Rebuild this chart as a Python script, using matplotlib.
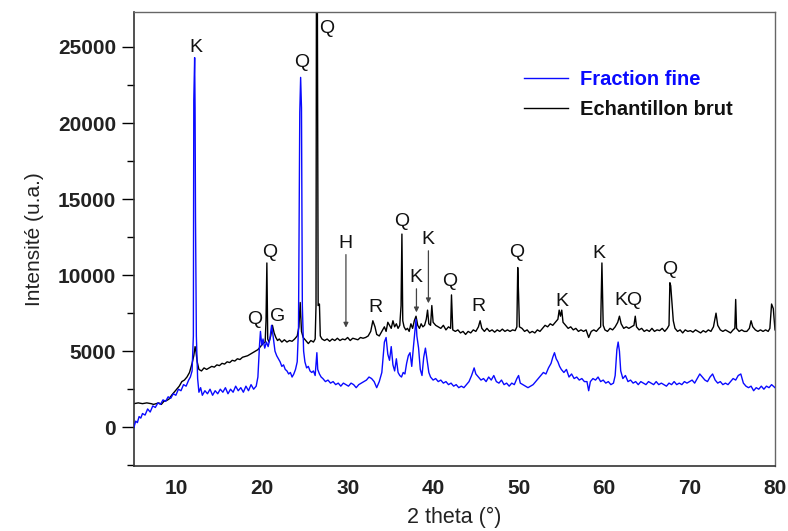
import matplotlib.pyplot as plt
from matplotlib.ticker import MultipleLocator

plt.rcParams['font.family'] = ['Liberation Sans', 'DejaVu Sans']

# Fraction fine (blue) : 2 theta / intensity
fine_2theta = [
    5.0, 5.2, 5.4, 5.6, 5.8, 6.0, 6.3, 6.6, 6.9, 7.2, 7.5, 7.8, 8.1, 8.4, 8.7, 9.0, 9.3, 9.6, 9.9,
    10.2, 10.5, 10.8, 11.1, 11.4, 11.6, 11.8, 11.95, 12.0, 12.1, 12.15, 12.2, 12.3, 12.45, 12.6, 12.8,
    13.0, 13.3, 13.6, 13.9, 14.2, 14.5, 14.8, 15.1, 15.4, 15.7, 16.0, 16.3, 16.6, 16.9, 17.2, 17.5,
    17.8, 18.1, 18.4, 18.7, 19.0, 19.3, 19.5, 19.7, 19.8, 19.95, 20.1, 20.3, 20.5, 20.7, 20.9, 21.1,
    21.3, 21.5, 21.7, 21.9, 22.1, 22.3, 22.5, 22.7, 22.9, 23.1, 23.3, 23.5, 23.7, 23.9, 24.1, 24.25,
    24.4, 24.5, 24.6, 24.7, 24.85, 25.0, 25.2, 25.4, 25.6, 25.8, 26.0, 26.2, 26.4, 26.5, 26.7, 26.9,
    27.1, 27.4, 27.7, 28.0, 28.3, 28.6, 28.9, 29.2, 29.5, 29.8, 30.1, 30.4, 30.7, 31.0, 31.3, 31.6,
    31.9, 32.2, 32.5, 32.8, 33.1, 33.4, 33.7, 34.0, 34.3, 34.5, 34.7, 34.9, 35.1, 35.3, 35.5, 35.7,
    35.9, 36.1, 36.3, 36.5, 36.7, 36.9, 37.1, 37.3, 37.5, 37.7, 37.9, 38.0, 38.1, 38.3, 38.5, 38.7,
    38.9, 39.1, 39.3, 39.5, 39.7, 40.0, 40.3, 40.6, 40.9, 41.2, 41.5, 41.8, 42.1, 42.4, 42.7, 43.0,
    43.3, 43.6, 43.9, 44.2, 44.5, 44.8, 45.0, 45.3, 45.6, 45.9, 46.2, 46.5, 46.8, 47.1, 47.4, 47.7,
    48.0, 48.3, 48.6, 48.9, 49.2, 49.5, 49.8, 50.0, 50.2, 50.5, 50.8, 51.1, 51.4, 51.7, 52.0, 52.3,
    52.6, 52.9, 53.2, 53.5, 53.8, 54.0, 54.2, 54.4, 54.6, 54.8, 55.0, 55.3, 55.6, 55.9, 56.2, 56.5,
    56.8, 57.1, 57.4, 57.7, 58.0, 58.2, 58.4, 58.7, 59.0, 59.3, 59.6, 59.9, 60.2, 60.5, 60.8, 61.1,
    61.3, 61.5, 61.65, 61.8, 61.95, 62.2, 62.5, 62.8, 63.1, 63.4, 63.7, 64.0, 64.3, 64.6, 64.9, 65.2,
    65.5, 65.8, 66.1, 66.4, 66.7, 67.0, 67.3, 67.6, 67.9, 68.2, 68.5, 68.8, 69.1, 69.4, 69.7, 70.0,
    70.3, 70.6, 70.9, 71.2, 71.5, 71.8, 72.1, 72.4, 72.7, 73.0, 73.3, 73.6, 73.9, 74.2, 74.5, 74.8,
    75.1, 75.4, 75.7, 76.0, 76.3, 76.6, 76.9, 77.2, 77.5, 77.8, 78.1, 78.4, 78.7, 79.0, 79.3, 79.6, 80.0,
]
fine_int = [
    0, 400, 300, 700, 600, 900, 800, 1200, 1000, 1400, 1300, 1600, 1500, 1800, 1700, 2000, 1900, 2200, 2100,
    2500, 2400, 2800, 2700, 3100, 3300, 3700, 6000, 21500, 24300, 21000, 13800, 6000, 3200, 2300, 2600,
    2100, 2400, 2200, 2500, 2100, 2400, 2200, 2500, 2300, 2600, 2200, 2500, 2300, 2700, 2400, 2600,
    2300, 2700, 2400, 2800, 2500, 2700, 3300, 5500, 6300, 5400, 5800, 5200, 5600, 5300, 5800, 6700,
    5900, 5000, 4700, 4500, 4300, 4000, 4100, 3800, 3700, 3500, 3600, 3300, 3500, 3800, 4300, 6500,
    20700, 23000, 21000, 8000, 5000, 4300, 3900, 4000, 3700, 3600, 3700, 3400, 4900, 3800, 3500, 3300,
    3200, 3000, 3100, 2900, 3000, 2800, 2900, 2700, 2900, 2800, 2700, 2900, 2800, 2600, 2800, 2900,
    3000, 3100, 3300, 3200, 3000, 2600, 3000, 3600, 5600, 5900, 4800, 4400, 5300, 4100, 3700, 4500,
    3600, 3400, 3300, 3600, 3500, 4200, 4700, 4900, 4000, 5300, 6500, 7100, 6000, 5200, 3800, 3400,
    4600, 5200, 4400, 3600, 3300, 3100, 3200, 3000, 3100, 2900, 3000, 2800, 2900, 2700, 2800, 2600,
    2700, 2600, 2800, 3000, 3400, 3900, 3500, 3300, 3100, 3200, 3000, 3300, 3100, 3400, 3000, 2900,
    3100, 2800, 2900, 2700, 2900, 2800, 3200, 3400, 2900, 2800, 2700, 2600, 2700, 2800, 3000, 3200,
    3400, 3600, 3500, 3900, 4200, 4600, 4900, 4500, 4300, 4000, 3800, 3600, 3800, 3300, 3500, 3200,
    3300, 3100, 3200, 3000, 3000, 2400, 3000, 3200, 3100, 3300, 3000, 3100, 2900, 3000, 2800, 2900,
    3400, 5100, 5600, 5000, 3700, 3200, 3400, 3000, 3100, 2900, 3000, 2800, 3000, 2900, 2800, 3000,
    2900, 2800, 3000, 2800, 2900, 2800, 2700, 2900, 2800, 3000, 2800, 2900, 2800, 3000, 2900, 3000,
    3100, 2900, 3200, 3500, 3300, 3100, 3000, 3300, 3500, 3100, 2900, 3000, 2800, 2900, 2800, 3000,
    3200, 3100, 3400, 3500, 2900, 2700, 2600, 2700, 2400, 2600, 2500, 2700, 2500, 2700, 2600, 2800, 2600,
]

# Echantillon brut (black)
brut_2theta = [
    5.0, 5.5, 6.0, 6.5, 7.0, 7.3, 7.6, 7.9, 8.2, 8.5, 8.8, 9.1, 9.4, 9.7, 10.0, 10.3, 10.6, 10.9,
    11.2, 11.5, 11.8, 12.0, 12.15, 12.25, 12.4, 12.6, 12.9, 13.2, 13.5, 13.8, 14.1, 14.4, 14.7, 15.0,
    15.3, 15.6, 15.9, 16.2, 16.5, 16.8, 17.1, 17.4, 17.7, 18.0, 18.3, 18.6, 18.9, 19.2, 19.5, 19.8,
    20.1, 20.35, 20.45, 20.55, 20.65, 20.8, 21.0, 21.2, 21.4, 21.6, 21.8, 22.0, 22.3, 22.6, 22.9, 23.2,
    23.5, 23.8, 24.1, 24.3, 24.45, 24.6, 24.8, 25.1, 25.4, 25.7, 26.0, 26.2, 26.3, 26.35, 26.45, 26.55,
    26.7, 26.8, 27.0, 27.3, 27.6, 27.9, 28.2, 28.5, 28.8, 29.1, 29.4, 29.7, 30.0, 30.3, 30.6, 30.9,
    31.2, 31.5, 31.8, 32.1, 32.4, 32.7, 32.95, 33.2, 33.4, 33.7, 34.0, 34.3, 34.5, 34.7, 34.9, 35.1,
    35.3, 35.5, 35.7, 35.9, 36.1, 36.25, 36.35, 36.45, 36.6, 36.8, 37.0, 37.2, 37.4, 37.6, 37.8, 38.0,
    38.2, 38.4, 38.6, 38.8, 39.0, 39.2, 39.35, 39.5, 39.7, 39.85, 40.0, 40.3, 40.6, 40.9, 41.2, 41.5,
    41.8, 42.05, 42.15, 42.3, 42.6, 42.9, 43.2, 43.5, 43.8, 44.1, 44.4, 44.7, 45.0, 45.3, 45.5, 45.7,
    46.0, 46.3, 46.6, 46.9, 47.2, 47.5, 47.8, 48.1, 48.4, 48.7, 49.0, 49.3, 49.6, 49.8, 49.9, 50.0,
    50.1, 50.4, 50.7, 51.0, 51.3, 51.6, 51.9, 52.2, 52.5, 52.8, 53.1, 53.4, 53.7, 54.0, 54.3, 54.6,
    54.75, 54.9, 55.05, 55.2, 55.5, 55.8, 56.1, 56.4, 56.7, 57.0, 57.3, 57.6, 57.9, 58.2, 58.5, 58.8,
    59.1, 59.4, 59.6, 59.75, 59.9, 60.1, 60.4, 60.7, 61.0, 61.3, 61.6, 61.8, 62.0, 62.3, 62.6, 62.9,
    63.2, 63.5, 63.65, 63.8, 64.1, 64.4, 64.7, 65.0, 65.3, 65.6, 65.9, 66.2, 66.5, 66.8, 67.1, 67.4,
    67.6, 67.7, 67.8, 67.95, 68.1, 68.3, 68.6, 68.9, 69.2, 69.5, 69.8, 70.1, 70.4, 70.7, 71.0, 71.3,
    71.6, 71.9, 72.2, 72.5, 72.8, 73.1, 73.3, 73.6, 73.9, 74.2, 74.5, 74.8, 75.1, 75.3, 75.4, 75.5,
    75.8, 76.1, 76.4, 76.7, 77.0, 77.2, 77.4, 77.7, 78.0, 78.3, 78.6, 78.9, 79.2, 79.4, 79.6, 79.8, 80.0,
]
brut_int = [
    1550, 1600, 1550, 1600, 1550, 1500, 1550, 1600, 1500, 1700, 1750, 1850, 2100, 2300, 2500, 2700, 3000, 3100,
    3300, 3600, 4200, 4700, 5300, 5000, 4300, 3800, 3700, 3900, 3800, 3900, 4000, 3950, 4100, 4050,
    4200, 4150, 4300, 4250, 4400, 4350, 4500, 4450, 4600, 4650, 4700, 4800, 4900, 5000, 5100, 5300,
    5500, 5600, 7000, 10800, 5800, 5600, 6000, 6700, 6200, 5900, 5700, 5800, 5600, 5750, 5600, 5700,
    5650, 5800, 6000, 6600, 8200, 6300, 5900, 5700, 5500, 5700, 5600, 5800, 8000, 30000, 30000, 8000,
    8100, 6000, 5800, 5700, 5800, 5650, 5800, 5700, 5850, 5700, 5800, 5750, 5900, 5700, 5850, 5800,
    5750, 5900, 5850, 5900, 6000, 6300, 7000, 6600, 6100, 6000, 6300, 6600, 6300, 6900, 6700, 6500,
    7000, 6600, 6800, 6500, 6700, 8000, 12700, 7000, 6600, 6400, 6500, 6300, 6800, 6500, 7000, 7300,
    6700, 6500, 6800, 6600, 6700, 7100, 7700, 6800, 6700, 8000, 6900, 6700, 6600, 6500, 6700, 6400,
    6600, 6500, 8700, 6400, 6300, 6400, 6200, 6300, 6100, 6300, 6200, 6400, 6300, 6600, 7000, 6500,
    6300, 6500, 6300, 6400, 6250, 6400, 6300, 6450, 6300, 6400, 6300, 6400, 6350, 6600, 10500, 8700,
    6600, 6500, 6300, 6400, 6200, 6300, 6200, 6400, 6300, 6500, 6700, 6600, 6800, 6700, 6900, 7100,
    7700, 7300, 7700, 6900, 6700, 6500, 6600, 6400, 6500, 6300, 6400, 6300, 6400, 5900, 6300, 6400,
    6300, 6500, 6600, 10800, 6700, 6400, 6300, 6500, 6400, 6600, 6900, 7300, 6800, 6500, 6600, 6500,
    6600, 6700, 7300, 6600, 6400, 6500, 6300, 6400, 6300, 6500, 6300, 6400, 6350, 6500, 6300, 6500,
    6700, 9500, 9300, 8100, 7000, 6500, 6300, 6400, 6200, 6400, 6300, 6350, 6250, 6400, 6300, 6200,
    6350, 6250, 6400, 6300, 6600, 7500, 6700, 6400, 6300, 6400, 6300, 6200, 6400, 6500, 8400, 6500,
    6300, 6400, 6300, 6300, 6500, 7000, 6600, 6400, 6300, 6400, 6300, 6400, 6300, 6500, 8100, 7800, 6400,
]

# phase labels: letter, 2 theta, intensity (label centre)
label_text = ['K', 'Q', 'Q', 'Q', 'Q', 'G', 'R', 'Q', 'Q', 'R', 'Q', 'K', 'K', 'KQ', 'Q']
label_x = [12.25, 24.65, 27.6, 20.9, 19.1, 21.8, 33.2, 36.35, 41.96, 45.25, 49.8, 55.06, 59.4, 62.8, 67.7]
label_y = [24950, 24000, 26200, 11500, 7100, 7250, 7900, 13550, 9550, 7950, 11500, 8250, 11450, 8350, 10350]

# arrowed labels: letter, 2 theta, text intensity, arrow tip intensity
arrow_text = ['H', 'K', 'K']
arrow_x = [29.8, 38.05, 39.45]
arrow_y = [12100, 9850, 12350]
arrow_tip = [6550, 7550, 8150]

fig = plt.figure(figsize=(7.88, 5.31), dpi=100)
ax = fig.add_axes([0.170, 0.1224, 0.8135, 0.855])

ax.plot(brut_2theta, brut_int, color='black', lw=1.0, label='Echantillon brut', zorder=2)
ax.plot(fine_2theta, fine_int, color='#0a0aff', lw=1.0, label='Fraction fine', zorder=3)

for t, x, y in zip(label_text, label_x, label_y):
    ax.text(x, y, t, ha='center', va='center', fontsize=14, color='#111111')

for t, x, y, tip in zip(arrow_text, arrow_x, arrow_y, arrow_tip):
    ax.text(x - 0.1, y, t, ha='center', va='center', fontsize=14, color='#111111')
    ax.annotate('', xy=(x, tip), xytext=(x, y - 750),
                arrowprops=dict(arrowstyle='-|>', color='#444444', lw=0.9,
                                mutation_scale=7, shrinkA=0, shrinkB=0))

ax.set_xlim(5, 80)
ax.set_ylim(-2550, 27300)
ax.yaxis.set_major_locator(MultipleLocator(5000))
ax.yaxis.set_minor_locator(MultipleLocator(2500))
ax.set_xticks([10, 20, 30, 40, 50, 60, 70, 80])
ax.tick_params(axis='y', which='major', direction='out', length=9, width=1, labelsize=15, pad=4)
ax.tick_params(axis='y', which='minor', direction='out', length=5, width=1)
ax.tick_params(axis='x', which='both', length=0, labelsize=15, pad=9)
for lab in ax.get_xticklabels() + ax.get_yticklabels():
    lab.set_fontweight('bold')
    lab.set_color('#222222')

for side in ['left', 'bottom']:
    ax.spines[side].set_color('#333333')
    ax.spines[side].set_linewidth(1.2)
for side in ['top', 'right']:
    ax.spines[side].set_color('#666666')
    ax.spines[side].set_linewidth(1.0)

ax.set_xlabel('2 theta (°)', fontsize=15.5, color='#222222', labelpad=7)
ax.set_ylabel('Intensité (u.a.)', fontsize=15, color='#222222', labelpad=10)

handles, labels = ax.get_legend_handles_labels()
leg = ax.legend(handles[::-1], labels[::-1], loc='upper left', bbox_to_anchor=(0.58, 0.912),
                frameon=False, handlelength=2.2, handletextpad=0.6,
                labelspacing=0.55, prop={'weight': 'bold', 'size': 14.5})
leg.get_texts()[0].set_color('#0a0aff')
leg.get_texts()[1].set_color('#111111')

fig.savefig('out.png', dpi=100)
